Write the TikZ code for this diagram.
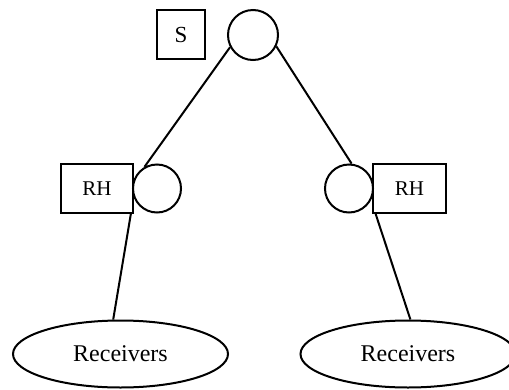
\documentclass[tikz,border=0pt]{standalone}
\usepackage{fontspec}
\setmainfont{Liberation Serif}
\usetikzlibrary{shapes.geometric}
\begin{document}
\begin{tikzpicture}[x=1pt,y=-1pt,
  every node/.style={inner sep=0pt},
  every path/.style={line width=2pt},
  hostbox/.style={draw, rectangle, minimum height=49pt, font=\fontsize{21}{23}\selectfont},
  router/.style={draw, circle, minimum size=48pt},
  group/.style={draw, ellipse, minimum width=215pt, minimum height=67pt, font=\fontsize{24}{26}\selectfont}]
  \useasboundingbox (0,0) rectangle (509,389);

  % sender and its router
  \node[hostbox, minimum width=48pt, font=\fontsize{23}{25}\selectfont] (s) at (181,34.5) {S};
  \node[router, minimum size=50pt] (top) at (253,35) {};

  % receiver hosts with their routers
  \node[hostbox, minimum width=72pt] (lrh) at (97,188.5) {RH};
  \node[router] (lc) at (157,188.5) {};
  \node[router] (rc) at (349,188.5) {};
  \node[hostbox, minimum width=73pt] (rrh) at (409.5,188.5) {RH};

  % receiver groups
  \node[group] (lg) at (120.5,354) {Receivers};
  \node[group] (rg) at (408,354) {Receivers};

  % links
  \draw (top.-152) -- (lc.120);
  \draw (top.-26) -- (rc.84);
  \draw (lrh.-37) -- (lg.102);
  \draw (rrh.-143) -- (rg.86);
\end{tikzpicture}
\end{document}
